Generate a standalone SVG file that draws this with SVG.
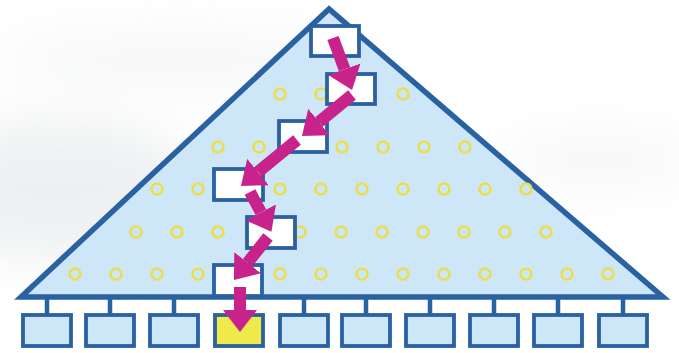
<svg xmlns="http://www.w3.org/2000/svg" width="679" height="353" viewBox="0 0 679 353">
  <defs>
    <style>
      .node { fill: #ffffff; stroke: #2a61a2; stroke-width: 3.8; }
      .leaf { fill: #cde7f8; stroke: #2a61a2; stroke-width: 3.8; }
      .hit { fill: #efe94a; stroke: #2a61a2; stroke-width: 3.8; }
      .dot { fill: none; stroke: #e9df4e; stroke-width: 2.6; }
      .tick { stroke: #2a61a2; stroke-width: 4.5; }
      .arr { stroke: #c7238a; stroke-width: 12; fill: none; marker-end: url(#head); }
    </style>
    <marker id="head" viewBox="0 0 22 34" markerWidth="22" markerHeight="34" refX="0" refY="17" orient="auto" markerUnits="userSpaceOnUse">
      <path d="M0,0 L22,17 L0,34 Z" fill="#c7238a"/>
    </marker>
    <filter id="blur" x="-50%" y="-50%" width="200%" height="200%">
      <feGaussianBlur stdDeviation="25"/>
    </filter>
  </defs>

  <rect width="679" height="353" fill="#ffffff"/>
  <g filter="url(#blur)" opacity="0.6">
    <ellipse cx="60" cy="190" rx="140" ry="70" fill="#e3e6e8"/>
    <ellipse cx="180" cy="60" rx="180" ry="30" fill="#f0f2f3"/>
    <ellipse cx="600" cy="160" rx="100" ry="25" fill="#eef0f1"/>
  </g>

  <g id="tree">
    <polygon points="329,9 21,297 663,297" fill="#cde7f8" stroke="#2a61a2" stroke-width="5.5" stroke-linejoin="miter"/>
  </g>

  <g id="slots">
    <circle class="dot" cx="280" cy="94" r="5.5"/>
    <circle class="dot" cx="321" cy="94" r="5.5"/>
    <circle class="dot" cx="403" cy="94" r="5.5"/>

    <circle class="dot" cx="218" cy="147" r="5.5"/>
    <circle class="dot" cx="259" cy="147" r="5.5"/>
    <circle class="dot" cx="342" cy="147" r="5.5"/>
    <circle class="dot" cx="383" cy="147" r="5.5"/>
    <circle class="dot" cx="424" cy="147" r="5.5"/>
    <circle class="dot" cx="465" cy="147" r="5.5"/>

    <circle class="dot" cx="157" cy="189" r="5.5"/>
    <circle class="dot" cx="198" cy="189" r="5.5"/>
    <circle class="dot" cx="280" cy="189" r="5.5"/>
    <circle class="dot" cx="321" cy="189" r="5.5"/>
    <circle class="dot" cx="362" cy="189" r="5.5"/>
    <circle class="dot" cx="403" cy="189" r="5.5"/>
    <circle class="dot" cx="444" cy="189" r="5.5"/>
    <circle class="dot" cx="485" cy="189" r="5.5"/>
    <circle class="dot" cx="526" cy="189" r="5.5"/>

    <circle class="dot" cx="136" cy="232" r="5.5"/>
    <circle class="dot" cx="177" cy="232" r="5.5"/>
    <circle class="dot" cx="218" cy="232" r="5.5"/>
    <circle class="dot" cx="300" cy="232" r="5.5"/>
    <circle class="dot" cx="341" cy="232" r="5.5"/>
    <circle class="dot" cx="382" cy="232" r="5.5"/>
    <circle class="dot" cx="423" cy="232" r="5.5"/>
    <circle class="dot" cx="464" cy="232" r="5.5"/>
    <circle class="dot" cx="505" cy="232" r="5.5"/>
    <circle class="dot" cx="546" cy="232" r="5.5"/>

    <circle class="dot" cx="75" cy="274" r="5.5"/>
    <circle class="dot" cx="116" cy="274" r="5.5"/>
    <circle class="dot" cx="157" cy="274" r="5.5"/>
    <circle class="dot" cx="198" cy="274" r="5.5"/>
    <circle class="dot" cx="280" cy="274" r="5.5"/>
    <circle class="dot" cx="321" cy="274" r="5.5"/>
    <circle class="dot" cx="362" cy="274" r="5.5"/>
    <circle class="dot" cx="403" cy="274" r="5.5"/>
    <circle class="dot" cx="444" cy="274" r="5.5"/>
    <circle class="dot" cx="485" cy="274" r="5.5"/>
    <circle class="dot" cx="526" cy="274" r="5.5"/>
    <circle class="dot" cx="567" cy="274" r="5.5"/>
    <circle class="dot" cx="608" cy="274" r="5.5"/>
  </g>

  <g id="n1"><rect class="node" x="311" y="26" width="48" height="30"/></g>
  <g id="n2"><rect class="node" x="327" y="74" width="48" height="30"/></g>
  <g id="n3"><rect class="node" x="279" y="121" width="48" height="31"/></g>
  <g id="n4"><rect class="node" x="214" y="169" width="49" height="31"/></g>
  <g id="n5"><rect class="node" x="247" y="217" width="48" height="31"/></g>
  <g id="n6"><rect class="node" x="214" y="265" width="48" height="31"/></g>

  <g id="leaf1"><rect class="leaf" x="23" y="315" width="48" height="31"/></g>
  <g id="leaf2"><rect class="leaf" x="86" y="315" width="48" height="31"/></g>
  <g id="leaf3"><rect class="leaf" x="150" y="315" width="48" height="31"/></g>
  <g id="leaf4"><rect class="hit" x="215" y="315" width="48" height="31"/></g>
  <g id="leaf5"><rect class="leaf" x="280" y="315" width="48" height="31"/></g>
  <g id="leaf6"><rect class="leaf" x="342" y="315" width="48" height="31"/></g>
  <g id="leaf7"><rect class="leaf" x="406" y="315" width="48" height="31"/></g>
  <g id="leaf8"><rect class="leaf" x="470" y="315" width="48" height="31"/></g>
  <g id="leaf9"><rect class="leaf" x="534" y="315" width="48" height="31"/></g>
  <g id="leaf10"><rect class="leaf" x="599" y="315" width="48" height="31"/></g>

  <g id="connectors">
    <line class="tick" x1="47" y1="298" x2="47" y2="314"/>
    <line class="tick" x1="110" y1="298" x2="110" y2="314"/>
    <line class="tick" x1="174" y1="298" x2="174" y2="314"/>
    <line class="tick" x1="239" y1="298" x2="239" y2="314"/>
    <line class="tick" x1="304" y1="298" x2="304" y2="314"/>
    <line class="tick" x1="366" y1="298" x2="366" y2="314"/>
    <line class="tick" x1="430" y1="298" x2="430" y2="314"/>
    <line class="tick" x1="494" y1="298" x2="494" y2="314"/>
    <line class="tick" x1="558" y1="298" x2="558" y2="314"/>
    <line class="tick" x1="623" y1="298" x2="623" y2="314"/>

    <line class="arr" x1="333" y1="38" x2="344.5" y2="69.3"/>
    <line class="arr" x1="352" y1="95" x2="319" y2="122"/>
    <line class="arr" x1="297" y1="140" x2="258" y2="172"/>
    <line class="arr" x1="250" y1="192" x2="261" y2="212.4"/>
    <line class="arr" x1="268" y1="237" x2="247.6" y2="262.7"/>
    <line class="arr" x1="240" y1="287" x2="240" y2="310"/>
  </g>
</svg>
